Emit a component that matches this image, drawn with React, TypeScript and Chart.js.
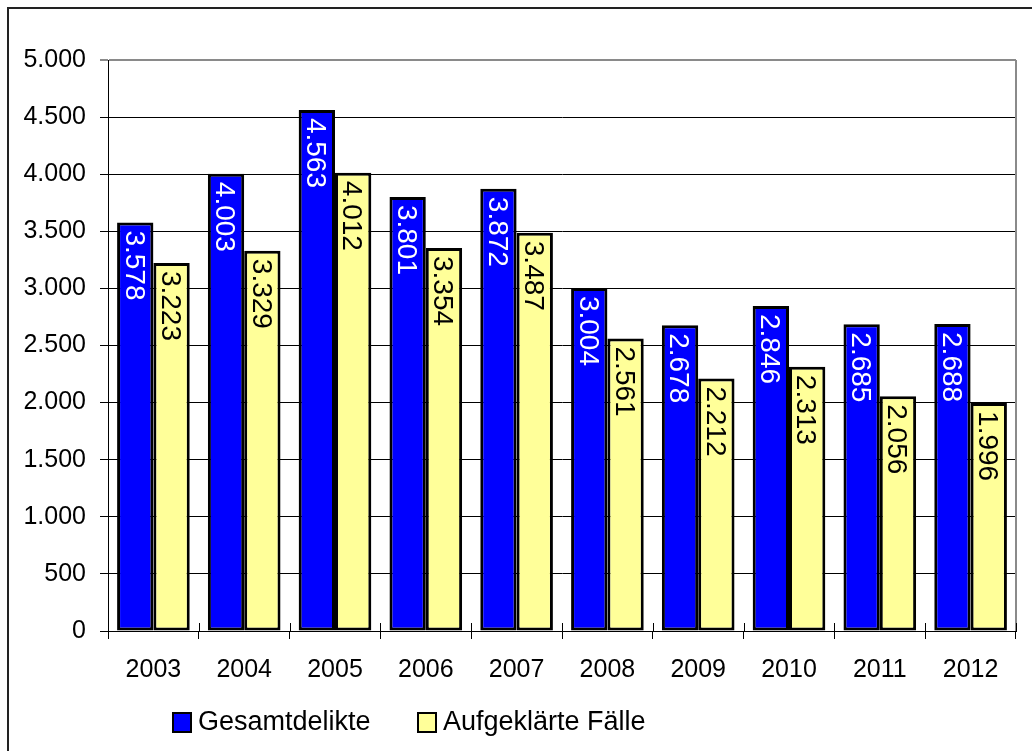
import React, { useEffect, useRef } from "react";
import { Chart, registerables } from "chart.js";

Chart.register(...registerables);

const years = ["2003", "2004", "2005", "2006", "2007", "2008", "2009", "2010", "2011", "2012"];
const gesamtdelikte = [3578, 4003, 4563, 3801, 3872, 3004, 2678, 2846, 2685, 2688];
const aufgeklaert = [3223, 3329, 4012, 3354, 3487, 2561, 2212, 2313, 2056, 1996];
const seriesNames = ["Gesamtdelikte", "Aufgeklärte Fälle"];
const FONT = '"Liberation Sans", Arial, sans-serif';

const fmt = (v: number) => {
  const s = Math.round(v).toString();
  return s.replace(/\B(?=(\d{3})+(?!\d))/g, ".");
};

const decorPlugin = {
  id: "decor",
  beforeDraw(chart: any) {
    const ctx = chart.ctx;
    ctx.save();
    ctx.fillStyle = "#fff";
    ctx.fillRect(0, 0, chart.width, chart.height);
    ctx.strokeStyle = "#222";
    ctx.lineWidth = 2;
    ctx.beginPath();
    ctx.moveTo(8, chart.height + 5);
    ctx.lineTo(8, 8);
    ctx.lineTo(chart.width + 5, 8);
    ctx.stroke();
    ctx.restore();
  },
  afterDraw(chart: any) {
    const ctx = chart.ctx;
    const a = chart.chartArea;
    ctx.save();
    ctx.strokeStyle = "#8a8a8a";
    ctx.lineWidth = 2;
    ctx.beginPath();
    ctx.moveTo(a.right, a.top);
    ctx.lineTo(a.right, a.bottom);
    ctx.stroke();
    // x tick marks crossing the axis
    const xs = chart.scales.x;
    ctx.strokeStyle = "#000";
    ctx.lineWidth = 1;
    const n = chart.data.labels.length;
    const w = (a.right - a.left) / n;
    for (let i = 0; i <= n; i++) {
      const x = Math.round(a.left + i * w) + 0.5;
      ctx.beginPath();
      ctx.moveTo(x, a.bottom - 8);
      ctx.lineTo(x, a.bottom);
      ctx.stroke();
    }
    void xs;
    // legend
    const items = [
      { x: 173, color: "#0000FF", label: seriesNames[0] },
      { x: 418, color: "#FFFF99", label: seriesNames[1] },
    ];
    ctx.font = `27px ${FONT}`;
    ctx.textBaseline = "middle";
    ctx.textAlign = "left";
    items.forEach((it) => {
      ctx.fillStyle = it.color;
      ctx.fillRect(it.x, 713, 18, 19);
      ctx.strokeStyle = "#000";
      ctx.lineWidth = 2;
      ctx.strokeRect(it.x, 713, 18, 19);
      ctx.fillStyle = "#000";
      ctx.fillText(it.label, it.x + 25, 723);
    });
    ctx.restore();
  },
  afterDatasetsDraw(chart: any) {
    const ctx = chart.ctx;
    ctx.save();
    ctx.font = `28px ${FONT}`;
    ctx.textAlign = "left";
    ctx.textBaseline = "middle";
    chart.data.datasets.forEach((ds: any, di: number) => {
      const meta = chart.getDatasetMeta(di);
      meta.data.forEach((bar: any, i: number) => {
        const v = ds.data[i];
        ctx.save();
        ctx.translate(bar.x - 2, bar.y + 8);
        ctx.rotate(Math.PI / 2);
        ctx.fillStyle = di === 0 ? "#ffffff" : "#000000";
        ctx.fillText(fmt(v), 0, 0);
        ctx.restore();
      });
    });
    ctx.restore();
  },
};

export default function App() {
  const ref = useRef<HTMLCanvasElement>(null);
  useEffect(() => {
    if (!ref.current) return;
    const chart = new Chart(ref.current, {
      type: "bar",
      data: {
        labels: years,
        datasets: [
          {
            label: seriesNames[0],
            data: gesamtdelikte,
            backgroundColor: "#0000FF",
            borderColor: "#000",
            borderWidth: 3,
            borderSkipped: false,
          },
          {
            label: seriesNames[1],
            data: aufgeklaert,
            backgroundColor: "#FFFF99",
            borderColor: "#000",
            borderWidth: 3,
            borderSkipped: false,
          },
        ],
      },
      options: {
        animation: false,
        responsive: false,
        devicePixelRatio: 1,
        layout: { padding: { top: 60, right: 16, left: 0, bottom: 0 } },
        datasets: { bar: { categoryPercentage: 0.8, barPercentage: 1.0 } },
        plugins: { legend: { display: false }, tooltip: { enabled: false } },
        scales: {
          x: {
            afterFit: (s: any) => {
              s.height = 120;
            },
            grid: {
              offset: true,
              drawOnChartArea: false,
              tickLength: 8,
              color: "#000",
            },
            border: { color: "#000", width: 1 },
            ticks: {
              color: "#000",
              font: { family: FONT, size: 25 },
              padding: 16,
              maxRotation: 0,
            },
          },
          y: {
            min: 0,
            max: 5000,
            afterFit: (s: any) => {
              s.width = 108;
            },
            grid: {
              color: (c: any) => (c.tick && c.tick.value === 5000 ? "#8a8a8a" : "#000"),
              lineWidth: (c: any) => (c.tick && c.tick.value === 5000 ? 2 : 1),
              tickLength: 8,
            },
            border: { color: "#000", width: 1 },
            ticks: {
              stepSize: 500,
              color: "#000",
              font: { family: FONT, size: 25 },
              padding: 14,
              callback: (v: any) => fmt(Number(v)),
            },
          },
        },
      },
      plugins: [decorPlugin],
    });
    return () => chart.destroy();
  }, []);
  return (
    <div style={{ position: "fixed", left: 0, top: 0, width: 1032, height: 751, background: "#fff" }}>
      <canvas ref={ref} width={1032} height={751} style={{ display: "block", width: 1032, height: 751 }} />
    </div>
  );
}
